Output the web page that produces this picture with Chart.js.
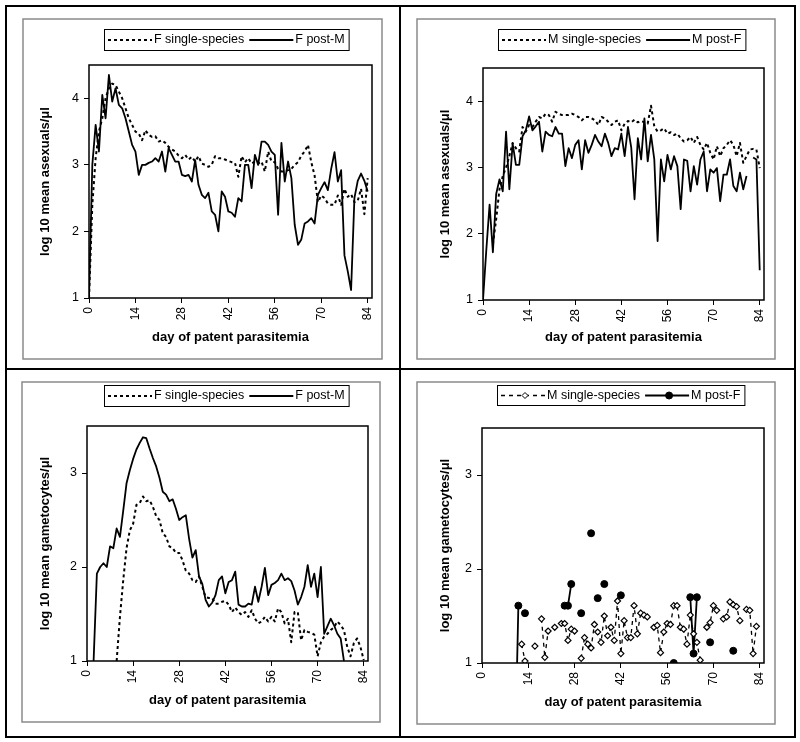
<!DOCTYPE html>
<html>
<head>
<meta charset="utf-8">
<script src="https://cdn.jsdelivr.net/npm/chart.js@4.4.1/dist/chart.umd.min.js"></script>
<style>
  body { margin: 0; background: #fff; }
  #page { position: relative; width: 800px; height: 742px; background: #fff; }
  canvas { position: absolute; }
  .rule { position: absolute; background: #000; }
  .frame { position: absolute; border: 2px solid #000; box-sizing: border-box; }
</style>
</head>
<body>
<div id="page">
  <canvas id="c1" width="400" height="368" style="left:0;top:0"></canvas>
  <canvas id="c2" width="400" height="368" style="left:400px;top:0"></canvas>
  <canvas id="c3" width="400" height="373" style="left:0;top:369px"></canvas>
  <canvas id="c4" width="400" height="373" style="left:400px;top:369px"></canvas>
  <div class="frame" style="left:5px;top:5px;width:791px;height:733px"></div>
  <div class="rule" style="left:399px;top:5px;width:2px;height:733px"></div>
  <div class="rule" style="left:5px;top:368px;width:791px;height:2px"></div>
</div>
<script>
// day of patent parasitemia
const days = [0,1,2,3,4,5,6,7,8,9,10,11,12,13,14,15,16,17,18,19,20,21,22,23,24,25,26,27,28,29,
  30,31,32,33,34,35,36,37,38,39,40,41,42,43,44,45,46,47,48,49,50,51,52,53,54,55,56,57,58,59,
  60,61,62,63,64,65,66,67,68,69,70,71,72,73,74,75,76,77,78,79,80,81,82,83,84,85];
const dayTicks = [0, 14, 28, 42, 56, 70, 84];

// log10 mean asexuals/ul
const fSingleAsex = [1.0,2.4,3.1,3.5,3.7,4.0,4.15,4.22,4.2,4.1,
  4.0,3.85,3.7,3.6,3.5,3.47,3.37,3.52,3.45,3.42,
  3.43,3.35,3.37,3.33,3.27,3.23,3.2,3.14,3.1,3.15,
  3.08,3.12,3.05,3.13,3.02,3.0,2.97,3.0,3.13,3.1,
  3.1,3.08,3.06,3.04,3.03,2.82,3.13,3.04,3.1,3.02,
  3.05,3.02,3.05,2.9,3.2,3.05,3.04,2.94,2.9,2.9,
  2.92,2.94,3.0,3.04,3.14,3.2,3.3,3.04,2.84,2.44,
  2.54,2.5,2.42,2.4,2.4,2.54,2.4,2.64,2.52,2.56,
  2.44,2.46,2.64,2.26,2.8,null];
const fPostMAsex = [1.0,3.0,3.6,3.2,4.05,3.7,4.35,3.95,4.15,3.9,
  3.85,3.7,3.5,3.3,3.2,2.85,3.0,3.0,3.03,3.05,
  3.1,3.05,3.2,2.9,3.25,3.15,3.05,3.05,2.85,2.83,
  2.85,2.75,3.07,2.7,2.55,2.5,2.58,2.3,2.25,2.0,
  2.6,2.52,2.3,2.28,2.22,2.5,2.45,3.0,3.0,2.65,
  3.15,3.0,3.35,3.35,3.3,3.2,3.15,2.25,3.33,2.75,
  3.05,2.8,2.1,1.8,1.88,2.12,2.15,2.2,2.12,2.55,
  2.65,2.74,2.62,2.94,3.19,2.75,2.92,1.64,1.4,1.12,
  2.5,2.76,2.87,2.76,2.6,null];
const mSingleAsex = [null,null,null,1.84,2.22,2.67,2.87,3.0,3.17,3.37,
  3.29,3.24,3.61,3.54,3.64,3.61,3.69,3.76,3.74,3.81,
  3.79,3.69,3.84,3.81,3.79,3.79,3.79,3.81,3.79,3.76,
  3.71,3.76,3.76,3.74,3.71,3.64,3.76,3.74,3.69,3.64,
  3.69,3.71,3.56,3.66,3.7,3.68,3.72,3.68,3.7,3.68,
  3.66,3.93,3.62,3.54,3.56,3.59,3.51,3.53,3.49,3.51,
  3.44,3.39,3.41,3.46,3.37,3.46,3.34,3.27,3.37,3.22,
  3.12,3.32,3.17,3.29,3.34,3.41,3.34,3.17,3.37,3.07,
  3.17,3.27,3.28,3.27,2.99,null];
const mPostFAsex = [1.0,1.75,2.44,1.72,2.6,2.82,2.64,3.54,2.67,3.36,
  3.04,3.04,3.47,3.56,3.77,3.56,3.62,3.69,3.24,3.54,
  3.49,3.47,3.61,3.51,3.51,3.02,3.29,3.14,3.34,3.41,
  2.97,3.41,3.22,3.34,3.49,3.39,3.32,3.51,3.37,3.17,
  3.29,3.27,3.51,3.17,3.61,3.3,2.52,3.44,3.12,3.74,
  3.09,3.49,3.12,1.89,3.12,2.79,3.19,2.97,3.17,3.02,
  2.37,3.12,3.1,2.64,3.02,2.74,3.12,3.24,2.64,2.97,
  2.92,2.99,2.49,2.89,2.89,3.12,2.72,2.64,2.92,2.67,
  2.87,null,3.15,3.12,1.45,null];

// log10 mean gametocytes/ul
const fSingleGam = [null,null,null,null,null,null,null,null,null,1.0,
  1.47,1.86,2.2,2.39,2.46,2.66,2.68,2.75,2.7,2.71,
  2.64,2.54,2.5,2.36,2.32,2.22,2.2,2.15,2.15,2.07,
  1.96,1.93,1.86,1.84,1.9,1.79,1.68,1.67,1.67,1.61,
  1.61,1.63,1.64,1.6,1.52,1.57,1.52,1.49,1.52,1.47,
  1.54,1.45,1.4,1.42,1.47,1.42,1.47,1.42,1.56,1.52,
  1.4,1.45,1.2,1.52,1.52,1.22,1.33,1.31,1.3,1.28,
  1.05,1.2,1.26,1.29,1.33,1.36,1.42,1.38,1.33,1.15,
  1.05,1.19,1.24,1.15,1.01,null];
const fPostMGam = [null,null,1.0,1.93,2.0,2.04,2.0,2.22,2.2,2.41,
  2.32,2.6,2.89,3.03,3.15,3.25,3.32,3.38,3.37,3.26,
  3.16,3.07,2.95,2.8,2.77,2.7,2.72,2.62,2.5,2.53,
  2.55,2.3,2.1,2.18,1.9,1.82,1.65,1.58,1.62,1.7,
  1.86,1.9,1.72,1.84,1.86,1.95,1.6,1.58,1.58,1.61,
  1.6,1.79,1.63,1.79,1.99,1.7,1.81,1.83,1.86,1.93,
  1.86,1.88,1.85,1.75,1.6,1.68,1.79,2.02,1.79,1.93,
  1.68,2.0,1.29,1.37,1.45,1.38,1.29,1.24,1.0,null,
  null,null,null,null,null,null];
const mSingleGam = [null,null,null,null,null,null,null,null,null,null,
  null,null,1.2,1.02,null,null,1.18,null,1.47,1.06,
  1.34,null,1.38,null,1.42,1.42,1.24,1.36,1.34,null,
  1.05,1.27,1.2,1.16,1.41,1.33,1.22,1.5,1.29,1.38,
  1.24,1.66,1.1,1.45,1.27,1.27,1.61,1.31,1.53,1.51,
  1.49,null,1.38,1.4,1.11,1.33,1.42,1.41,1.61,1.61,
  1.38,1.36,1.2,1.51,1.31,1.22,1.03,null,1.38,1.43,
  1.61,1.56,null,1.47,1.49,1.65,1.62,1.6,1.45,null,
  1.57,1.56,1.1,1.39,null,null];
const mPostFGam = [null,null,null,null,null,null,null,null,null,null,
  0,1.61,null,1.53,null,null,null,null,null,null,
  null,null,null,null,null,1.61,1.61,1.84,null,null,
  1.53,null,null,2.38,null,1.69,null,1.84,null,null,
  null,null,1.72,null,null,null,null,null,null,null,
  null,null,null,null,null,null,null,null,1.0,null,
  null,null,null,1.7,1.1,1.7,null,null,null,1.22,
  null,null,null,null,null,null,1.13,null,null,null,
  null,null,null,null,null,null];

Chart.defaults.font.family = '"Liberation Sans", Arial, sans-serif';
Chart.defaults.color = '#000';

const dotted = { borderColor: '#000', borderWidth: 2, borderDash: [3, 3], pointRadius: 0 };
const solid = { borderColor: '#000', borderWidth: 1.8, pointRadius: 0 };
const dashedDiamond = { borderColor: '#000', borderWidth: 1.3, borderDash: [4, 4], pointStyle: 'rectRot',
  pointRadius: 3, pointBackgroundColor: '#fff', pointBorderColor: '#000', pointBorderWidth: 1.2 };
const solidDot = { borderColor: '#000', borderWidth: 1.8, pointStyle: 'circle', pointRadius: 3.5,
  pointBackgroundColor: '#000', pointBorderColor: '#000', pointBorderWidth: 1 };

function pts(vals) {
  return days.map((d, i) => ({ x: d, y: vals[i] }));
}

function marker(ctx, style, r, x, y) {
  ctx.beginPath();
  if (style === 'rectRot') {
    ctx.moveTo(x, y - r); ctx.lineTo(x + r, y); ctx.lineTo(x, y + r); ctx.lineTo(x - r, y); ctx.closePath();
  } else {
    ctx.arc(x, y, r, 0, Math.PI * 2);
  }
  ctx.fill();
  ctx.stroke();
}

// excel-like chart box, plot frame and boxed legend
const excelFrame = {
  id: 'excelFrame',
  beforeDraw(chart, args, opts) {
    const ctx = chart.ctx, b = opts.box;
    ctx.save();
    ctx.strokeStyle = '#8a8a8a';
    ctx.lineWidth = 1.5;
    ctx.strokeRect(b.l, b.t, b.r - b.l, b.b - b.t);
    ctx.restore();
  },
  afterDraw(chart, args, opts) {
    const ctx = chart.ctx, a = chart.chartArea, lg = opts.legend;
    ctx.save();
    ctx.strokeStyle = '#000';
    ctx.lineWidth = 1.5;
    ctx.strokeRect(a.left, a.top, a.right - a.left, a.bottom - a.top);

    ctx.font = '12.5px "Liberation Sans", Arial, sans-serif';
    ctx.textBaseline = 'middle';
    ctx.fillStyle = '#000';
    const y = (lg.t + lg.b) / 2 + 0.5;
    let x = lg.l + 4;
    chart.data.datasets.forEach(ds => {
      ctx.setLineDash(ds.borderDash || []);
      ctx.lineWidth = ds.borderWidth;
      ctx.beginPath();
      ctx.moveTo(x, y); ctx.lineTo(x + 44, y);
      ctx.stroke();
      ctx.setLineDash([]);
      if (ds.pointRadius) {
        ctx.lineWidth = 1;
        ctx.fillStyle = ds.pointBackgroundColor;
        marker(ctx, ds.pointStyle, ds.pointRadius, x + 24, y);
        ctx.fillStyle = '#000';
      }
      ctx.fillText(ds.label, x + 46, y);
      x += 46 + ctx.measureText(ds.label).width + 5;
    });
    ctx.lineWidth = 1;
    ctx.strokeRect(lg.l + 0.5, lg.t + 0.5, x - lg.l - 1, lg.b - lg.t);
    ctx.restore();
  }
};

function makePanel(id, p) {
  const W = p.w, H = p.h;
  new Chart(document.getElementById(id), {
    type: 'line',
    data: { datasets: p.datasets },
    plugins: [excelFrame],
    options: {
      responsive: false,
      animation: false,
      devicePixelRatio: 1,
      layout: { padding: { left: p.box.l, top: p.area.t, right: W - p.area.r, bottom: H - p.box.b } },
      elements: { line: { tension: 0, fill: false, borderJoinStyle: 'round' } },
      datasets: { line: { clip: 0, spanGaps: false } },
      plugins: {
        legend: { display: false },
        tooltip: { enabled: false },
        excelFrame: { box: p.box, legend: p.legend }
      },
      scales: {
        x: {
          type: 'linear', min: 0, max: 85.3,
          afterFit: s => { s.height = p.box.b - p.area.b; },
          afterBuildTicks: s => { s.ticks = dayTicks.map(v => ({ value: v })); },
          ticks: { minRotation: 90, maxRotation: 90, autoSkip: false, padding: 4, font: { size: 12 }, color: '#000' },
          grid: { drawOnChartArea: false, drawTicks: true, tickLength: 5, color: '#000', lineWidth: 1 },
          border: { display: false },
          title: { display: true, text: 'day of patent parasitemia', color: '#000',
            font: { size: 13, weight: 'bold' }, padding: { top: 0, bottom: 14 } }
        },
        y: {
          min: 1, max: p.yMax,
          afterFit: s => { s.width = p.area.l - p.box.l; },
          ticks: { stepSize: 1, includeBounds: false, padding: 5, font: { size: 12.5 }, color: '#000' },
          grid: { drawOnChartArea: false, drawTicks: true, tickLength: 5, color: '#000', lineWidth: 1 },
          border: { display: false },
          title: { display: true, text: p.yTitle, color: '#000',
            font: { size: 13, weight: 'bold' }, padding: { top: 46 - p.box.l - 8, bottom: 0 } }
        }
      }
    }
  });
}

makePanel('c1', {
  w: 400, h: 368, yMax: 4.5, yTitle: 'log 10 mean asexuals/\u03bcl',
  box: { l: 23, t: 19, r: 382, b: 359 }, area: { l: 89, t: 65, r: 372, b: 298 }, legend: { l: 104, t: 29, b: 50 },
  datasets: [
    Object.assign({ label: 'F single-species', data: pts(fSingleAsex) }, dotted),
    Object.assign({ label: 'F post-M', data: pts(fPostMAsex) }, solid)
  ]
});
makePanel('c2', {
  w: 400, h: 368, yMax: 4.5, yTitle: 'log 10 mean asexuals/\u03bcl',
  box: { l: 17, t: 19, r: 375, b: 359 }, area: { l: 83, t: 68, r: 364, b: 300 }, legend: { l: 98, t: 29, b: 50 },
  datasets: [
    Object.assign({ label: 'M single-species', data: pts(mSingleAsex) }, dotted),
    Object.assign({ label: 'M post-F', data: pts(mPostFAsex) }, solid)
  ]
});
makePanel('c3', {
  w: 400, h: 373, yMax: 3.5, yTitle: 'log 10 mean gametocytes/\u03bcl',
  box: { l: 22, t: 13, r: 380, b: 353 }, area: { l: 87, t: 57, r: 368, b: 292 }, legend: { l: 104, t: 16, b: 37 },
  datasets: [
    Object.assign({ label: 'F single-species', data: pts(fSingleGam) }, dotted),
    Object.assign({ label: 'F post-M', data: pts(fPostMGam) }, solid)
  ]
});
makePanel('c4', {
  w: 400, h: 373, yMax: 3.5, yTitle: 'log 10 mean gametocytes/\u03bcl',
  box: { l: 17, t: 13, r: 375, b: 355 }, area: { l: 82, t: 59, r: 364, b: 294 }, legend: { l: 97, t: 16, b: 36 },
  datasets: [
    Object.assign({ label: 'M single-species', data: pts(mSingleGam) }, dashedDiamond),
    Object.assign({ label: 'M post-F', data: pts(mPostFGam) }, solidDot)
  ]
});
</script>
</body>
</html>
